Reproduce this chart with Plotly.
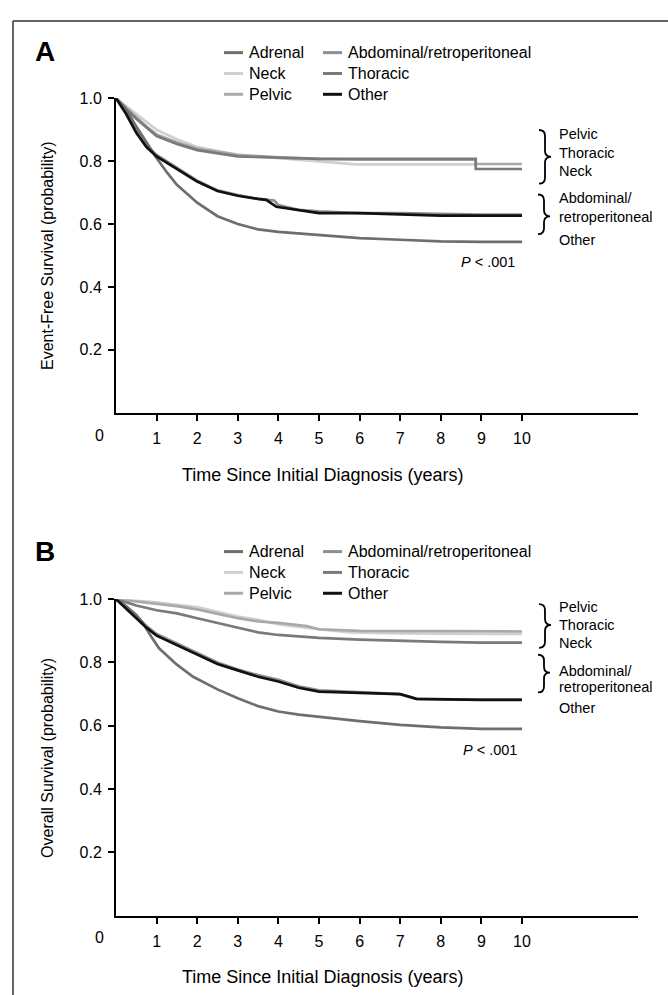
import plotly.graph_objects as go

W, H = 668, 995


def px(X):
    return X / W


def py(Y):
    return 1 - Y / H


FONT = "Liberation Sans, Arial, Helvetica, sans-serif"

# ---------------- data ----------------
# Panel A: Event-free survival
efs_adrenal_t = [0, 0.25, 0.5, 0.75, 1, 1.25, 1.5, 2, 2.5, 3, 3.5, 4, 5, 6, 7, 8, 9, 10]
efs_adrenal_s = [1.0, 0.965, 0.91, 0.86, 0.81, 0.765, 0.725, 0.668, 0.625, 0.60, 0.583, 0.575, 0.565, 0.555, 0.55, 0.545, 0.543, 0.543]

efs_neck_t = [0, 0.25, 0.5, 1, 1.5, 2, 3, 4, 5, 5.9, 7, 8, 8.86]
efs_neck_s = [1.0, 0.975, 0.95, 0.90, 0.87, 0.845, 0.82, 0.81, 0.80, 0.79, 0.79, 0.79, 0.79]

efs_pelvic_t = [0, 0.25, 0.5, 0.75, 1, 1.5, 2, 2.5, 3, 4, 5, 6, 7, 8, 8.86, 8.86, 10]
efs_pelvic_s = [1.0, 0.97, 0.94, 0.91, 0.885, 0.86, 0.84, 0.83, 0.82, 0.812, 0.807, 0.805, 0.805, 0.805, 0.805, 0.791, 0.791]

efs_abdominal_t = [0, 0.25, 0.5, 0.75, 1, 1.5, 1.75, 2, 2.5, 3, 3.5, 3.9, 4, 4.5, 5, 6, 7, 8, 9, 10]
efs_abdominal_s = [1.0, 0.955, 0.90, 0.85, 0.82, 0.78, 0.758, 0.738, 0.707, 0.692, 0.68, 0.675, 0.66, 0.645, 0.64, 0.635, 0.635, 0.632, 0.63, 0.63]

efs_thoracic_t = [0, 0.25, 0.5, 1, 1.5, 2, 3, 4, 5, 6, 7, 8.86, 8.86, 10]
efs_thoracic_s = [1.0, 0.965, 0.935, 0.88, 0.855, 0.835, 0.815, 0.81, 0.807, 0.807, 0.807, 0.807, 0.775, 0.775]

efs_other_t = [0, 0.25, 0.5, 0.75, 1, 1.25, 1.5, 1.75, 2, 2.5, 3, 3.5, 3.7, 3.95, 4.5, 5, 6, 7, 8, 9, 10]
efs_other_s = [1.0, 0.95, 0.89, 0.845, 0.815, 0.795, 0.775, 0.755, 0.735, 0.705, 0.69, 0.68, 0.677, 0.655, 0.645, 0.635, 0.635, 0.63, 0.627, 0.627, 0.627]

# Panel B: Overall survival
os_adrenal_t = [0, 0.25, 0.5, 0.65, 0.85, 1.06, 1.5, 1.9, 2.5, 3, 3.5, 4, 4.5, 5, 6, 7, 8, 9, 10]
os_adrenal_s = [1.0, 0.978, 0.95, 0.928, 0.885, 0.845, 0.793, 0.755, 0.715, 0.687, 0.662, 0.645, 0.635, 0.628, 0.615, 0.603, 0.595, 0.59, 0.59]

os_neck_t = [0, 0.5, 1, 1.5, 2, 2.5, 3, 3.5, 4, 5, 5.75, 7, 8, 9, 10]
os_neck_s = [1.0, 0.995, 0.99, 0.982, 0.975, 0.96, 0.945, 0.935, 0.92, 0.905, 0.895, 0.892, 0.89, 0.89, 0.89]

os_pelvic_t = [0, 0.5, 1, 1.5, 2, 2.5, 3, 3.5, 4, 4.7, 5, 6, 7, 8, 9, 10]
os_pelvic_s = [1.0, 0.993, 0.985, 0.978, 0.968, 0.955, 0.94, 0.93, 0.925, 0.915, 0.905, 0.90, 0.90, 0.90, 0.90, 0.898]

os_abdominal_t = [0, 0.25, 0.5, 0.75, 1, 1.5, 2, 2.5, 3, 3.5, 4, 4.5, 5, 6, 7, 7.4, 8, 9, 10]
os_abdominal_s = [1.0, 0.975, 0.945, 0.915, 0.89, 0.86, 0.83, 0.80, 0.778, 0.76, 0.745, 0.725, 0.712, 0.705, 0.70, 0.685, 0.683, 0.683, 0.683]

os_thoracic_t = [0, 0.5, 1, 1.5, 2, 2.5, 3, 3.5, 4, 5, 6, 7, 8, 9, 10]
os_thoracic_s = [1.0, 0.98, 0.965, 0.955, 0.94, 0.925, 0.91, 0.895, 0.887, 0.878, 0.872, 0.868, 0.865, 0.863, 0.863]

os_other_t = [0, 0.25, 0.5, 0.75, 1, 1.5, 2, 2.5, 3, 3.5, 4, 4.5, 5, 6, 7, 7.4, 8, 9, 10]
os_other_s = [1.0, 0.97, 0.94, 0.91, 0.885, 0.855, 0.825, 0.795, 0.775, 0.755, 0.74, 0.72, 0.708, 0.705, 0.70, 0.685, 0.683, 0.682, 0.682]

series_names = ["Adrenal", "Neck", "Pelvic", "Abdominal/retroperitoneal", "Thoracic", "Other"]
series_colors = ["#6e6e6e", "#d0d0d0", "#a9a9a9", "#8e8e8e", "#7a7a7a", "#111111"]

efs_data = [(efs_adrenal_t, efs_adrenal_s), (efs_neck_t, efs_neck_s), (efs_pelvic_t, efs_pelvic_s),
            (efs_abdominal_t, efs_abdominal_s), (efs_thoracic_t, efs_thoracic_s), (efs_other_t, efs_other_s)]
os_data = [(os_adrenal_t, os_adrenal_s), (os_neck_t, os_neck_s), (os_pelvic_t, os_pelvic_s),
           (os_abdominal_t, os_abdominal_s), (os_thoracic_t, os_thoracic_s), (os_other_t, os_other_s)]

x_ticks = [1, 2, 3, 4, 5, 6, 7, 8, 9, 10]
y_ticks = [0.2, 0.4, 0.6, 0.8, 1.0]
y_ticktext = ["0.2", "0.4", "0.6", "0.8", "1.0"]

bracket_upper = ["Pelvic", "Thoracic", "Neck"]
bracket_lower = ["Abdominal/", "retroperitoneal", "Other"]

fig = go.Figure()

draw_order = [1, 2, 4, 3, 0, 5]
for data, xa, ya in [(efs_data, "x", "y"), (os_data, "x2", "y2")]:
    for i in draw_order:
        t, s = data[i]
        fig.add_trace(go.Scatter(
            x=t, y=s, mode="lines", name=series_names[i],
            line=dict(color=series_colors[i], width=2.7),
            xaxis=xa, yaxis=ya, showlegend=False, hoverinfo="skip",
        ))

X0, X1 = 116, 638
px_per_year = 40.6
xmax = (X1 - X0) / px_per_year

axis_common = dict(showgrid=False, zeroline=False, showline=True, linecolor="black", linewidth=2,
                   ticks="outside", ticklen=6, tickwidth=1.5, tickcolor="black",
                   tickfont=dict(family=FONT, size=16, color="black"))

fig.update_layout(
    width=W, height=H,
    margin=dict(l=0, r=0, t=0, b=0),
    paper_bgcolor="white", plot_bgcolor="white",
    showlegend=False,
    xaxis=dict(domain=[px(X0), px(X1)], range=[0, xmax], tickvals=x_ticks, anchor="y",
               ticklabelstandoff=4, **axis_common),
    yaxis=dict(domain=[py(408), py(91)], range=[0, 1.0], tickvals=y_ticks, ticktext=y_ticktext,
               anchor="x", ticklabelstandoff=3, **axis_common),
    xaxis2=dict(domain=[px(X0), px(X1)], range=[0, xmax], tickvals=x_ticks, anchor="y2",
                ticklabelstandoff=4, **axis_common),
    yaxis2=dict(domain=[py(915), py(596)], range=[0, 1.0], tickvals=y_ticks, ticktext=y_ticktext,
                anchor="x2", ticklabelstandoff=3, **axis_common),
)

ann = []
shapes = []

# manual two-column legends (sample line + label)
legend_cols = [(224, 247, [0, 1, 2]), (323, 346, [3, 4, 5])]
for top_rows in ([45, 66, 87], [548, 569, 590]):
    for lx, tx, idxs in legend_cols:
        for Y, i in zip(top_rows, idxs):
            shapes.append(dict(type="line", xref="paper", yref="paper",
                               x0=px(lx), x1=px(lx + 19), y0=py(Y), y1=py(Y),
                               line=dict(color=series_colors[i], width=3)))
            ann.append(dict(text=series_names[i], x=px(tx), y=py(Y), xanchor="left",
                            font=dict(family=FONT, size=16, color="black")))

# panel letters
ann.append(dict(text="<b>A</b>", x=px(45), y=py(44), font=dict(family=FONT, size=28, color="black")))
ann.append(dict(text="<b>B</b>", x=px(45), y=py(548), font=dict(family=FONT, size=28, color="black")))

# origin "0" labels
ann.append(dict(text="0", x=px(99), y=py(431), font=dict(family=FONT, size=16, color="black")))
ann.append(dict(text="0", x=px(99), y=py(937), font=dict(family=FONT, size=16, color="black")))

# axis titles
ann.append(dict(text="Time Since Initial Diagnosis (years)", x=px(322), y=py(471),
                font=dict(family=FONT, size=18, color="black")))
ann.append(dict(text="Time Since Initial Diagnosis (years)", x=px(322), y=py(977),
                font=dict(family=FONT, size=18, color="black")))
ann.append(dict(text="Event-Free Survival (probability)", x=px(48), y=py(250), textangle=-90,
                font=dict(family=FONT, size=16, color="black")))
ann.append(dict(text="Overall Survival (probability)", x=px(48), y=py(756), textangle=-90,
                font=dict(family=FONT, size=16, color="black")))

# P values
ann.append(dict(text="<i>P</i> < .001", x=px(459), y=py(256), xanchor="left",
                font=dict(family=FONT, size=14.5, color="black")))
ann.append(dict(text="<i>P</i> < .001", x=px(461), y=py(748), xanchor="left",
                font=dict(family=FONT, size=14.5, color="black")))

# bracket labels
lab_font = dict(family=FONT, size=14.5, color="black")
for labels, ys in [(bracket_upper, [127, 146, 164]), (bracket_lower, [192, 211, 234]),
                   (bracket_upper, [604, 622, 640]), (bracket_lower, [668, 685, 706])]:
    for txt, Y in zip(labels, ys):
        ann.append(dict(text=txt, x=px(557), y=py(Y), xanchor="left", font=lab_font))

for a in ann:
    a.setdefault("xref", "paper")
    a.setdefault("yref", "paper")
    a.setdefault("showarrow", False)
    a.setdefault("yanchor", "middle")
    a.setdefault("xanchor", "center")
fig.update_layout(annotations=ann)


def brace(x0, ytop, ybot, ytip, w=12, r=6):
    xm = x0 + w / 2
    pts = [
        ("M", [(x0, ytop)]),
        ("Q", [(xm, ytop), (xm, ytop + r)]),
        ("L", [(xm, ytip - r)]),
        ("Q", [(xm, ytip), (x0 + w, ytip)]),
        ("Q", [(xm, ytip), (xm, ytip + r)]),
        ("L", [(xm, ybot - r)]),
        ("Q", [(xm, ybot), (x0, ybot)]),
    ]
    parts = []
    for cmd, ps in pts:
        parts.append(cmd + " " + " ".join(f"{px(X):.5f},{py(Y):.5f}" for X, Y in ps))
    return " ".join(parts)


for x0, yt, yb, ytip in [(539, 123, 177, 150), (538, 188, 228, 210),
                         (539, 601, 645, 622), (538, 652, 690, 670)]:
    shapes.append(dict(type="path", xref="paper", yref="paper", path=brace(x0, yt, yb, ytip),
                       line=dict(color="black", width=1.8)))

# scanned frame lines
shapes.append(dict(type="line", xref="paper", yref="paper", x0=px(13), x1=1, y0=py(13), y1=py(13),
                   line=dict(color="#333", width=1.5)))
shapes.append(dict(type="line", xref="paper", yref="paper", x0=px(13), x1=px(13), y0=py(13), y1=0,
                   line=dict(color="#333", width=1.5)))
fig.update_layout(shapes=shapes)

fig.write_html("out.html")
